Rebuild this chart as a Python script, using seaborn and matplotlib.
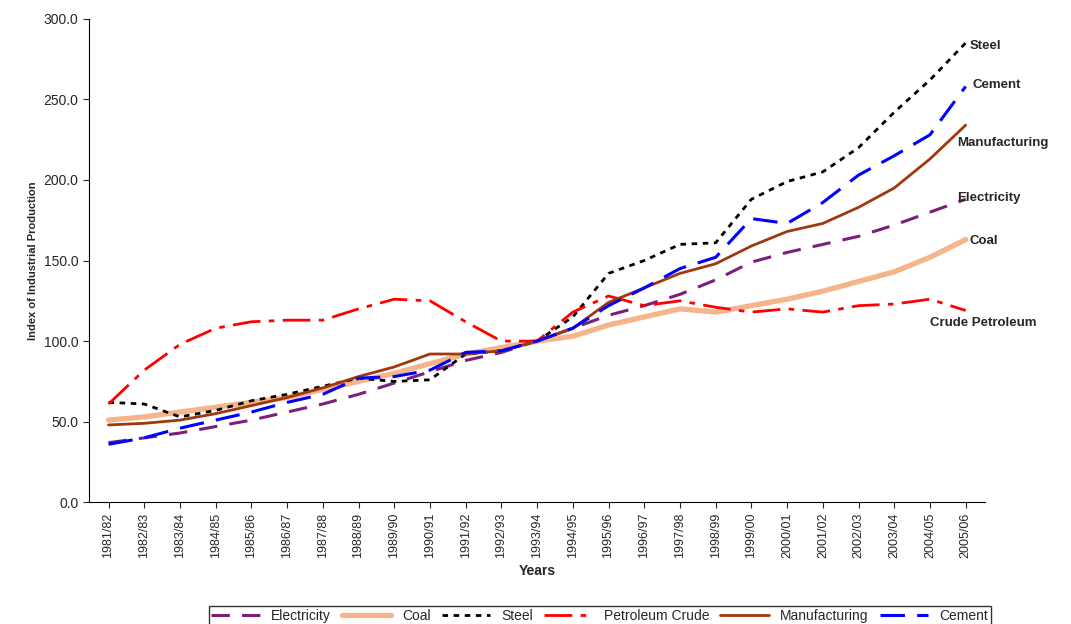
import seaborn as sns
import numpy as np
import pandas as pd
import matplotlib.pyplot as plt

years = ['1981/82', '1982/83', '1983/84', '1984/85', '1985/86', '1986/87', '1987/88', '1988/89',
         '1989/90', '1990/91', '1991/92', '1992/93', '1993/94', '1994/95', '1995/96', '1996/97',
         '1997/98', '1998/99', '1999/00', '2000/01', '2001/02', '2002/03', '2003/04', '2004/05', '2005/06']

electricity = [37, 40, 43, 47, 51, 56, 61, 67, 74, 81, 88, 93, 100, 108, 116, 122, 129, 138, 149, 155, 160, 165, 172, 180, 188]
coal = [51, 53, 56, 59, 62, 65, 70, 75, 80, 86, 92, 96, 100, 103, 110, 115, 120, 118, 122, 126, 131, 137, 143, 152, 163]
steel = [62, 61, 53, 57, 63, 67, 72, 77, 75, 76, 92, 94, 100, 115, 142, 150, 160, 161, 188, 199, 205, 220, 242, 262, 285]
petroleum = [61, 82, 98, 108, 112, 113, 113, 120, 126, 125, 112, 100, 100, 118, 128, 122, 125, 121, 118, 120, 118, 122, 123, 126, 119]
manufacturing = [48, 49, 51, 55, 60, 65, 71, 78, 84, 92, 92, 94, 100, 108, 124, 133, 142, 148, 159, 168, 173, 183, 195, 213, 234]
cement = [36, 40, 46, 51, 56, 62, 67, 77, 78, 82, 93, 94, 100, 108, 122, 133, 145, 152, 176, 173, 186, 203, 215, 228, 258]

series = [
    ('Electricity', electricity, '#7B1F7B', (0, (6, 4)), 2.2),
    ('Coal', coal, '#F5B48A', '-', 3.8),
    ('Steel', steel, 'black', (0, (2, 2)), 2.0),
    ('Petroleum Crude', petroleum, '#FF0000', (0, (10, 3, 2, 3)), 2.0),
    ('Manufacturing', manufacturing, '#A0380C', '-', 2.0),
    ('Cement', cement, '#0000FF', (0, (8, 4)), 2.2),
]

sns.set_style('white')
plt.rcParams['font.family'] = ['Liberation Sans', 'DejaVu Sans']

fig, ax = plt.subplots(figsize=(10.71, 6.24), dpi=100)
x = np.arange(len(years))
for name, vals, color, ls, lw in series:
    df = pd.DataFrame({'x': x, 'y': vals})
    sns.lineplot(data=df, x='x', y='y', ax=ax, color=color, linestyle=ls, linewidth=lw, label=name)

# end labels: (text, x position, y position)
ends = [('Steel', 24.1, 283), ('Cement', 24.2, 259), ('Manufacturing', 23.75, 223),
        ('Electricity', 23.75, 189), ('Coal', 24.1, 162), ('Crude Petroleum', 23.0, 111)]
for name, xp, yp in ends:
    ax.text(xp, yp, name, fontsize=9.5, fontweight='bold', va='center')

ax.set_xlim(-0.55, 24.55)
ax.set_ylim(0, 300)
ax.set_yticks(np.arange(0, 301, 50))
ax.set_yticklabels([f'{v:.1f}' for v in range(0, 301, 50)], fontsize=10)
ax.set_xticks(x)
ax.set_xticklabels(years, rotation=90, fontsize=9)
ax.tick_params(axis='both', which='both', direction='out', length=4, left=True, bottom=True)
for s in ['top', 'right']:
    ax.spines[s].set_visible(False)
for s in ['left', 'bottom']:
    ax.spines[s].set_color('black')
ax.set_xlabel('Years', fontsize=10, fontweight='bold')
ax.set_ylabel('Index of Industrial Production', fontsize=8, fontweight='bold')
ax.legend(loc='upper center', bbox_to_anchor=(0.57, -0.2), ncol=6, fontsize=10, frameon=True,
          fancybox=False, edgecolor='black', handlelength=3.5, columnspacing=0.8, borderpad=0.2)
fig.subplots_adjust(left=0.083, right=0.92, top=0.97, bottom=0.195)
fig.savefig('out.png', dpi=100)
